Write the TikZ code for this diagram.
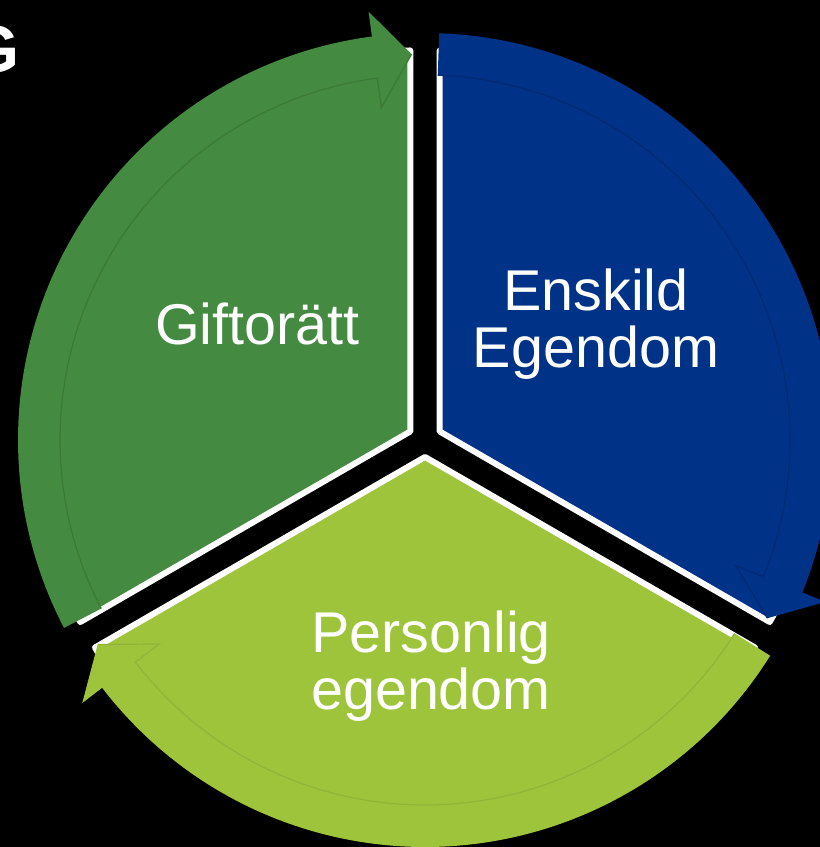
\documentclass[tikz,border=0pt]{standalone}
\usepackage{fontspec}
\setmainfont{Liberation Sans}
\definecolor{giftgreen}{HTML}{448A40}
\definecolor{enskildblue}{HTML}{003287}
\definecolor{personlime}{HTML}{9EC43C}
\begin{document}
\begin{tikzpicture}[x=1pt, y=1pt,
  wedge/.style={draw=white, line width=6pt, line join=round},
  band edge/.style={line width=1.2pt},
  label text/.style={text=white, font=\fontsize{57.5}{57}\selectfont, align=center, anchor=base, inner sep=0pt}]
\useasboundingbox[fill=black] (0,0) rectangle (820,847);
\coordinate (c) at (425,407);
% pie pieces
\begin{scope}[shift={(c)}]
\draw[wedge, fill=giftgreen] (150:17) -- ++(90:381) arc[start angle=90, end angle=210, radius=381] -- cycle;%Giftoratt
\draw[wedge, fill=enskildblue] (30:17) -- ++(90:381) arc[start angle=90, end angle=-30, radius=381] -- cycle;%Enskild
\draw[wedge, fill=personlime] (270:17) -- ++(-30:381) arc[start angle=-30, end angle=-150, radius=381] -- cycle;%Personlig
\end{scope}
% arrow bands
\begin{scope}[shift={(c)}]
\fill[giftgreen] (207.5:407) arc[start angle=207.5, end angle=97.5, radius=407] -- (97.5:432) -- (92:386) -- (97.5:335) -- (97.5:365) arc[start angle=97.5, end angle=207.5, radius=365] -- cycle;
\draw[giftgreen!88!black, band edge] (92:386) -- (97.5:335) -- (97.5:365) arc[start angle=97.5, end angle=207.5, radius=365];
\fill[enskildblue] (88:407) arc[start angle=88, end angle=-22, radius=407] -- (-22:432) -- (-27.5:386) -- (-22:335) -- (-22:365) arc[start angle=-22, end angle=88, radius=365] -- cycle;
\draw[enskildblue!85!black, band edge] (-27.5:386) -- (-22:335) -- (-22:365) arc[start angle=-22, end angle=88, radius=365];
\fill[personlime] (-32:407) arc[start angle=-32, end angle=-142.5, radius=407] -- (-142.5:432) -- (-148:386) -- (-142.5:335) -- (-142.5:365) arc[start angle=-142.5, end angle=-32, radius=365] -- cycle;
\draw[personlime!92!black, band edge] (-148:386) -- (-142.5:335) -- (-142.5:365) arc[start angle=-142.5, end angle=-32, radius=365];
\end{scope}
% labels
\begin{scope}[every node/.style={label text}]
\node (gifto) at (257.5,502) {Giftorätt};
\node (enskild) at (596,479) {Enskild\\Egendom};
\node (personlig) at (431,137) {Personlig\\egendom};
\end{scope}
\node[text=white, font=\bfseries\fontsize{67}{67}\selectfont, anchor=base east, inner sep=0pt] (title) at (20,774) {G};
\end{tikzpicture}
\end{document}
